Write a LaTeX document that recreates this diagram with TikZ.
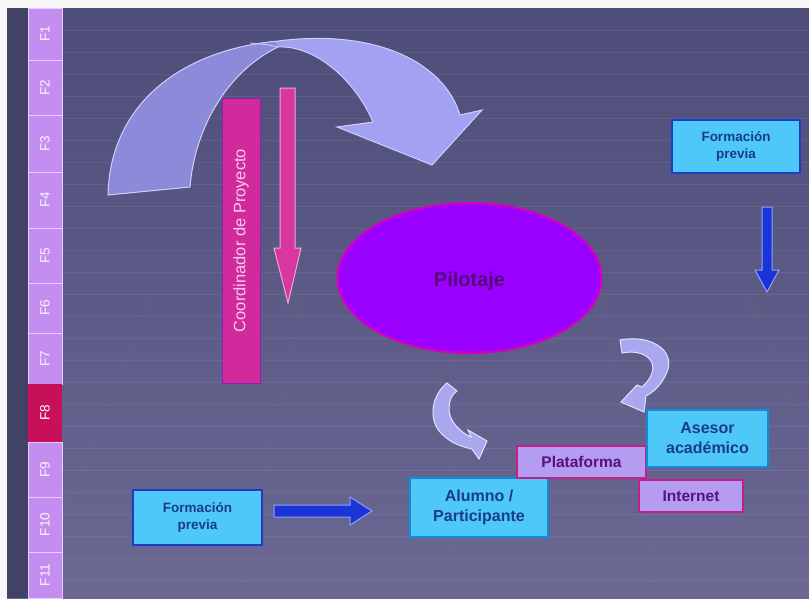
\documentclass[tikz,border=0pt]{standalone}
\usepackage{fontspec}
\setmainfont{Liberation Sans}
\definecolor{bgtop}{HTML}{4E4C78}
\definecolor{bgbot}{HTML}{6B6994}
\definecolor{stripc}{HTML}{C48EF0}
\definecolor{stripsep}{HTML}{E6CCFF}
\definecolor{activec}{HTML}{C8105A}
\definecolor{bandlight}{HTML}{A2A1F2}
\definecolor{banddark}{HTML}{8C8BDA}
\definecolor{bandedge}{HTML}{CFCFFF}
\definecolor{coordfill}{HTML}{D02A9C}
\definecolor{coordedge}{HTML}{9A18B8}
\definecolor{coordtext}{HTML}{F6CCEA}
\definecolor{pinkarrow}{HTML}{D8379E}
\definecolor{pinkedge}{HTML}{F2A6D6}
\definecolor{ellfill}{HTML}{9A00FF}
\definecolor{elledge}{HTML}{D000C8}
\definecolor{elltext}{HTML}{520A78}
\definecolor{cyanfill}{HTML}{4EC8F8}
\definecolor{cyanedge}{HTML}{1E3CC4}
\definecolor{cyantext}{HTML}{1A3A90}
\definecolor{lavfill}{HTML}{B49CF0}
\definecolor{lavedge}{HTML}{C0208A}
\definecolor{lavtext}{HTML}{5A1080}
\definecolor{bluearrow}{HTML}{1A34D8}
\definecolor{blueedge}{HTML}{8EA2FF}
\definecolor{smallfill}{HTML}{A9A7EE}
\definecolor{smalledge}{HTML}{E2E2FF}
\tikzset{
  phase/.style={fill=stripc, draw=stripsep, line width=0.8pt},
  phaselabel/.style={rotate=90, text=white!92!stripc, font=\fontsize{13.5}{13}\selectfont},
  cyanbox/.style={fill=cyanfill, draw=cyanedge, line width=1.6pt, inner sep=0pt,
    align=center, text=cyantext, font=\bfseries\fontsize{13.5}{17}\selectfont},
  bigcyan/.style={cyanbox, draw=cyanedge!60!cyan, font=\bfseries\fontsize{16}{20}\selectfont},
  lavbox/.style={fill=lavfill, draw=lavedge, line width=1.6pt, inner sep=0pt,
    text=lavtext, font=\bfseries\fontsize{15.5}{18}\selectfont},
  blockblue/.style={fill=bluearrow, draw=blueedge, line width=1pt},
  blockpink/.style={fill=pinkarrow, draw=pinkedge, line width=1pt},
  curlarrow/.style={fill=smallfill, draw=smalledge, line width=1pt},
}
\begin{document}
\begin{tikzpicture}[x=1pt,y=-1pt]
\useasboundingbox (0,0) rectangle (809,598);

% backdrop with faint floor lines
\fill[white!94!gray] (0,0) rectangle (809,598);
\shade[top color=bgtop, bottom color=bgbot] (7,8) rectangle (809,598);
\foreach \yy in {30,52,...,590}
  \draw[white, opacity=0.07, line width=1pt] (62,\yy) -- (809,\yy);
\foreach \xx/\dx in {150/-60,300/-30,450/0,600/30,750/60}
  \draw[white, opacity=0.03, line width=1pt] (\xx,300) -- (\xx+\dx*2,598);
\fill[black!15!bgtop] (7,8) rectangle (28,598);

% phase strip F1..F11
\foreach \ya/\yb/\lab in {8/60/F1,60/115/F2,115/172/F3,172/228/F4,228/283/F5,
    283/333/F6,333/384/F7,442/497/F9,497/552/F10,552/598/F11}{
  \draw[phase] (28,\ya) rectangle (62,\yb);
  \node[phaselabel] (ph\lab) at (45,{(\ya+\yb)/2}) {\lab};
}
\fill[activec] (28,384) rectangle (62,442);
\node[phaselabel, text=white] (phF8) at (45,413) {F8};

% large curved arrow: darker rising band, lighter falling band
\def\bigcurve{(108,195) .. controls (110,105) and (180,50) .. (278,41)
  .. controls (380,28) and (445,65) .. (460,115) -- (482,110) -- (432,165)
  -- (337,127) -- (373,122) .. controls (355,80) and (315,45) .. (278,47)
  .. controls (230,70) and (195,125) .. (190,187) -- cycle}
\fill[bandlight] \bigcurve;
\begin{scope}
  \clip (0,0) -- (248,0) -- (280,49) -- (280,300) -- (0,300) -- cycle;
  \fill[banddark] \bigcurve;
\end{scope}
\draw[bandedge, line width=1pt] \bigcurve;
\draw[bandedge, line width=0.8pt] (250,43) .. controls (262,44) and (271,45) .. (278,47);

% project coordinator bar and its arrow
\node[fill=coordfill, draw=coordedge, line width=1pt, minimum width=38pt,
  minimum height=285pt, inner sep=0pt] (coord) at (241,240.5) {};
\node[rotate=90, text=coordtext, font=\fontsize{16.5}{18}\selectfont]
  (coordlabel) at (coord.center) {Coordinador de Proyecto};
\draw[blockpink] (280,88) -- (295,88) -- (295,248) -- (301,248) -- (288,303)
  -- (274,248) -- (280,248) -- cycle;

% pilot ellipse
\fill[elledge] (469.5,278) ellipse [x radius=133, y radius=76];
\fill[ellfill] (469.5,278) ellipse [x radius=130.5, y radius=73.5];
\node[text=elltext, font=\bfseries\fontsize{20}{22}\selectfont] (pilot) at (469.5,281) {Pilotaje};

% small curled arrows
\draw[curlarrow] (620,340) .. controls (650,334) and (676,350) .. (667,372)
  .. controls (662,384) and (655,391) .. (646,396) -- (644,412) -- (621,402)
  -- (637,385) -- (642,387) .. controls (650,380) and (656,370) .. (651,361)
  .. controls (645,352) and (633,351) .. (622,353) -- cycle;
\draw[curlarrow] (447,383) .. controls (432,395) and (428,418) .. (440,432)
  .. controls (448,441) and (458,446) .. (472,449) -- (479,459) -- (487,441)
  -- (468,430) -- (471,437) .. controls (460,432) and (450,422) .. (449,410)
  .. controls (449,400) and (452,394) .. (457,391) -- cycle;

% participant, platform and advisor boxes
\node[bigcyan, minimum width=138pt, minimum height=59pt]
  (alumno) at (479,507.5) {Alumno /\\Participante};
\node[lavbox, minimum width=129pt, minimum height=32pt] (plataforma) at (581.5,462) {Plataforma};
\node[bigcyan, minimum width=121pt, minimum height=57pt]
  (asesor) at (707.5,438.5) {Asesor\\académico};
\node[lavbox, minimum width=104pt, minimum height=32pt] (internet) at (691,496) {Internet};

% prior training boxes and their arrows
\node[cyanbox, minimum width=128pt, minimum height=53pt] (formR) at (736,146.5) {Formación\\previa};
\node[cyanbox, minimum width=129pt, minimum height=55pt] (formL) at (197.5,517.5) {Formación\\previa};
\draw[blockblue] (762,207) -- (772,207) -- (772,270) -- (779,270) -- (767,292)
  -- (755,270) -- (762,270) -- cycle;
\draw[blockblue] (274,505) -- (350,505) -- (350,497) -- (372,511) -- (350,525)
  -- (350,517) -- (274,517) -- cycle;
\end{tikzpicture}
\end{document}
